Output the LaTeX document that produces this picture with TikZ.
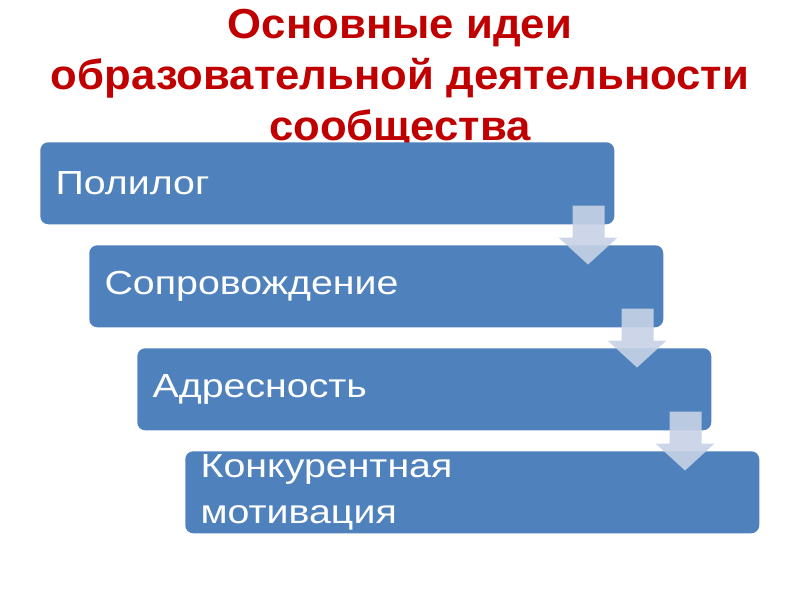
\documentclass[tikz,border=0pt]{standalone}
\usepackage{fontspec}
\setmainfont{Liberation Sans}
\newfontfamily\boxfont[FakeStretch=1.18]{Liberation Sans}
\newfontfamily\titlefont[FakeStretch=1.04]{Liberation Sans}
\usetikzlibrary{positioning, calc}
\definecolor{stepblue}{HTML}{4F81BD}
\definecolor{arrowblue}{HTML}{C6D2E6}
\definecolor{titlered}{HTML}{C00000}

\begin{document}
\begin{tikzpicture}[
    x=0.75pt, y=-0.75pt,
    idea/.style={rectangle, rounded corners=6pt, fill=stepblue, text=white, anchor=north west,
      minimum width=430.5pt, minimum height=61.5pt, text width=407.5pt, inner xsep=11.5pt,
      inner ysep=0pt, align=left, font=\boxfont\fontsize{25}{34.5}\selectfont},
    flow/.style={fill=arrowblue, fill opacity=0.9}
  ]
  \useasboundingbox (0,0) rectangle (800,600);

  \node (title) [align=center, text=titlered, font=\titlefont\fontsize{31.5}{38.5}\selectfont\bfseries]
    at (400,79) {Основные идеи\\образовательной деятельности\\сообщества};

  \node (p1) [idea] at (40,142) {Полилог};
  \node (p2) [idea] at (89,245) {Сопровождение};
  \node (p3) [idea] at (137,348) {Адресность};
  \node (p4) [idea] at (185,451) {Конкурентная\\мотивация};

  \foreach \a in {p1, p2, p3} {
    \fill[flow] ($(\a.south east)+(-42,-19)$) -- ++(32,0) -- ++(0,32) -- ++(13,0)
      -- ++(-29.5,27) -- ++(-29.5,-27) -- ++(14,0) -- cycle;
  }
\end{tikzpicture}
\end{document}
